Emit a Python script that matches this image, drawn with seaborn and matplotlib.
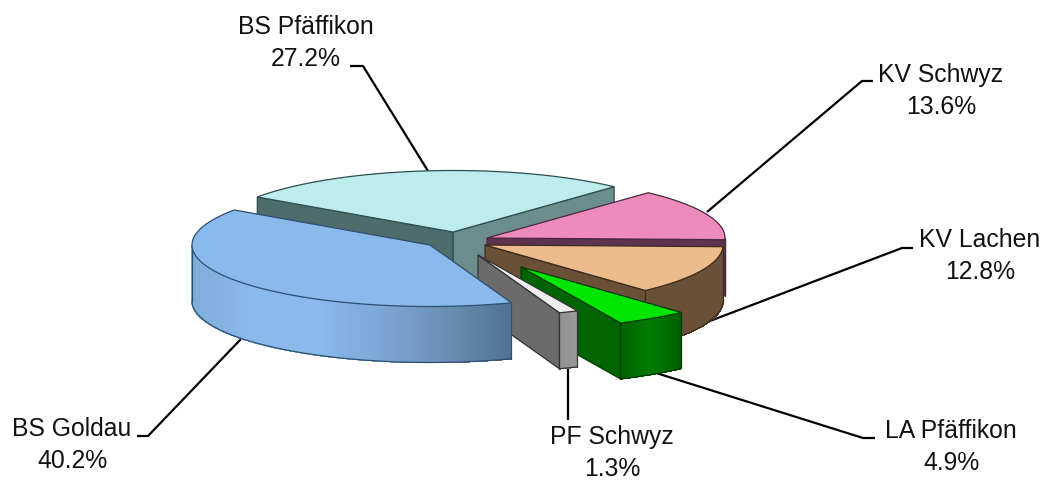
import numpy as np
import matplotlib
matplotlib.use("Agg")
import matplotlib.pyplot as plt
from matplotlib.patches import Polygon
import seaborn as sns

categories = ["BS Goldau", "PF Schwyz", "LA Pfäffikon", "KV Lachen", "KV Schwyz", "BS Pfäffikon"]
shares = [40.2, 1.3, 4.9, 12.8, 13.6, 27.2]

START = 145.3
RX, RY, DEPTH = 238.0, 61.5, 56.0
apex = {"BS Goldau": (430, 246), "PF Schwyz": (478, 256), "LA Pfäffikon": (521, 268),
        "KV Lachen": (485, 246), "KV Schwyz": (487, 239), "BS Pfäffikon": (453, 233)}
top_col = {"BS Goldau": "#8ab9ec", "PF Schwyz": "#eeeeee", "LA Pfäffikon": "#00e600",
           "KV Lachen": "#ecbc8c", "KV Schwyz": "#ee8bbd", "BS Pfäffikon": "#bcecec"}
edge_col = {"BS Goldau": "#2f4f6f", "PF Schwyz": "#333333", "LA Pfäffikon": "#003c00",
            "KV Lachen": "#3a2a1a", "KV Schwyz": "#4a2a40", "BS Pfäffikon": "#2f4f4f"}
# radial walls: wall at start angle, wall at end angle
wall_start = {"BS Goldau": "#4f7090", "PF Schwyz": "#6b6b6b", "LA Pfäffikon": "#006400",
              "KV Lachen": "#6b5038", "KV Schwyz": "#5e3350", "BS Pfäffikon": "#6b8e8c"}
wall_end = {"BS Goldau": "#4f7090", "PF Schwyz": "#8f8f8f", "LA Pfäffikon": "#006400",
            "KV Lachen": "#6b5038", "KV Schwyz": "#5e3350", "BS Pfäffikon": "#4f6c6c"}
arc_stops = {"BS Goldau": ["#7fadd8", "#8ab9ec", "#8ab9ec", "#7ba6d4", "#6a8fb5", "#4f7090"],
             "PF Schwyz": ["#8f8f8f", "#9a9a9a"],
             "LA Pfäffikon": ["#006000", "#007c00", "#006000"],
             "KV Lachen": ["#6b5038", "#6b5038"],
             "KV Schwyz": ["#5e3350", "#5e3350"],
             "BS Pfäffikon": ["#6b8e8c", "#6b8e8c"]}
draw_order = ["BS Pfäffikon", "KV Schwyz", "KV Lachen", "LA Pfäffikon", "PF Schwyz", "BS Goldau"]
labels = {"BS Pfäffikon": ((306, 43), [(350, 67), (363, 67), (428, 172)]),
          "KV Schwyz": ((941, 91), [(873, 82), (862, 82), (707, 213)]),
          "KV Lachen": ((980, 256), [(913, 249), (902, 249), (702, 325)]),
          "LA Pfäffikon": ((951, 447), [(875, 439), (863, 439), (653, 373)]),
          "PF Schwyz": ((612, 453), [(568, 421), (568, 368)]),
          "BS Goldau": ((72, 445), [(137, 437), (148, 437), (241, 340)])}

sns.set_style("white")
plt.rcParams["font.family"] = ["Liberation Sans", "DejaVu Sans"]
fig = plt.figure(figsize=(10.46, 4.81), dpi=100, facecolor="white")
ax = fig.add_axes([0, 0, 1, 1])
ax.set_xlim(0, 1046)
ax.set_ylim(481, 0)
ax.axis("off")

spans = np.array(shares) * 3.6
starts = START + np.concatenate([[0], np.cumsum(spans)[:-1]])
angle = {c: (s, s + w) for c, s, w in zip(categories, starts, spans)}


def rim(name, t):
    x0, y0 = apex[name]
    r = np.radians(t)
    return x0 + RX * np.cos(r), y0 - RY * np.sin(r)


for k, name in enumerate(draw_order):
    z = 10 + k * 5
    t0, t1 = angle[name]
    x0, y0 = apex[name]
    ec, lw = edge_col[name], 0.9
    # radial walls that face the viewer
    for t, col, normal in ((t0, wall_start[name], t0 - 90), (t1, wall_end[name], t1 + 90)):
        if np.sin(np.radians(normal)) >= 0:
            continue
        xr, yr = rim(name, t)
        ax.add_patch(Polygon([(x0, y0), (xr, yr), (xr, yr + DEPTH), (x0, y0 + DEPTH)],
                             closed=True, fc=col, ec=ec, lw=lw, zorder=z))
    # outer wall, only the part facing the viewer
    ts = np.arange(t0, t1 + 0.5, 0.5)
    ts = np.append(ts[ts < t1], t1)
    front = ts[np.sin(np.radians(ts)) <= 0.001]
    if len(front) > 1:
        xs, ys = rim(name, front)
        pal = sns.blend_palette(arc_stops[name], 256)
        lo, hi = xs.min(), xs.max()
        for i in range(len(front) - 1):
            u = 0.5 * (xs[i] + xs[i + 1])
            c = pal[int(255 * (u - lo) / max(hi - lo, 1))]
            ax.add_patch(Polygon([(xs[i], ys[i]), (xs[i + 1], ys[i + 1]),
                                  (xs[i + 1], ys[i + 1] + DEPTH), (xs[i], ys[i] + DEPTH)],
                                 closed=True, fc=c, ec=c, lw=0.5, antialiased=False, zorder=z + 1))
        ax.plot(xs, ys + DEPTH, color=ec, lw=lw, zorder=z + 2)
        ax.plot([xs[0], xs[0]], [ys[0], ys[0] + DEPTH], color=ec, lw=lw, zorder=z + 2)
        ax.plot([xs[-1], xs[-1]], [ys[-1], ys[-1] + DEPTH], color=ec, lw=lw, zorder=z + 2)
    # top face
    ts = np.linspace(t0, t1, 200)
    xs, ys = rim(name, ts)
    ax.add_patch(Polygon(np.column_stack([np.r_[x0, xs], np.r_[y0, ys]]),
                         closed=True, fc=top_col[name], ec=ec, lw=lw, zorder=z + 3))

for name, v in zip(categories, shares):
    (tx, ty), pts = labels[name]
    pts = np.array(pts)
    ax.plot(pts[:, 0], pts[:, 1], color="black", lw=1.6, solid_capstyle="butt", zorder=5)
    ax.text(tx, ty, f"{name}\n{v:.1f}%", ha="center", va="center", fontsize=17.8,
            color="#111111", linespacing=1.39, zorder=60)

fig.savefig("out.png", dpi=100)
